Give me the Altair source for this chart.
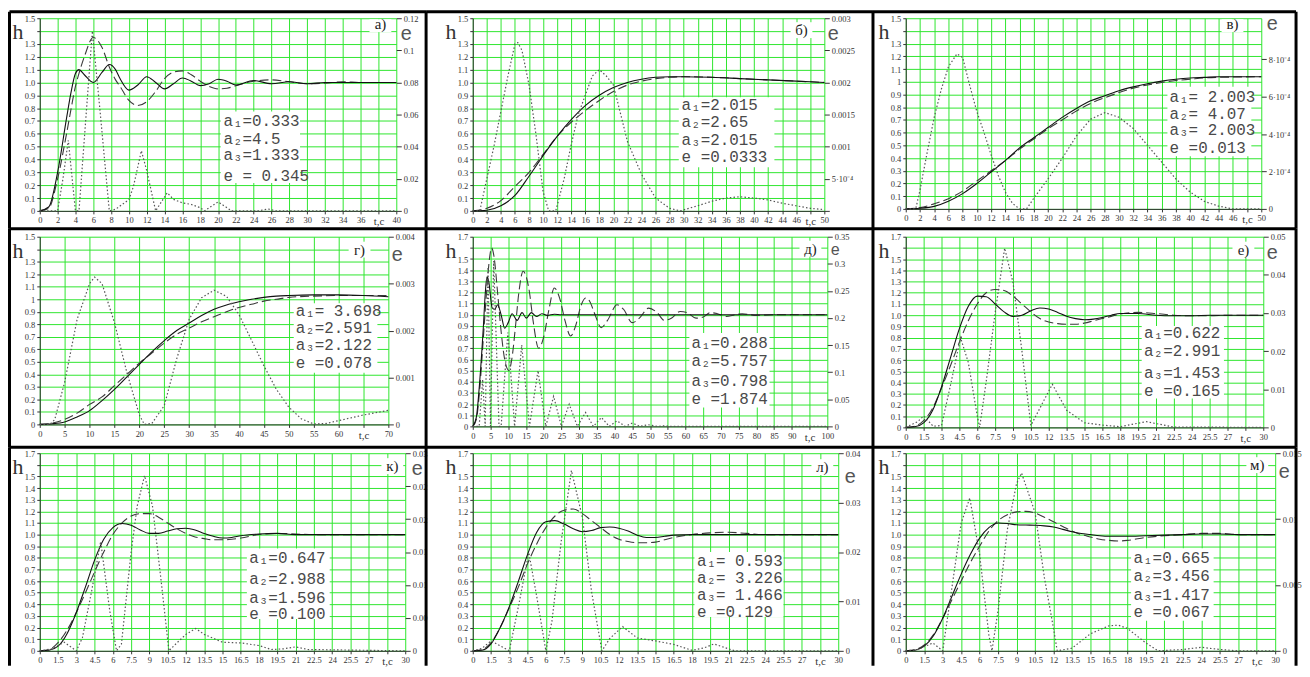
import altair as alt
import pandas as pd

GREEN = "#2ee62e"
SERIF = "Liberation Serif"
MONO = "Liberation Mono"

# ---------------- panel а ----------------
A_T = [0, 1, 2, 3, 3.5, 4, 4.4, 5, 6, 7, 7.8, 8.5, 9, 10, 11, 12, 13, 14, 15, 16, 17, 18, 19, 20, 21, 22, 24, 26, 28, 30, 32, 34, 36, 40]
A_SOLID = [0, 0.03, 0.3, 0.72, 0.92, 1.07, 1.1, 1.06, 1.0, 1.08, 1.14, 1.1, 1.03, 0.94, 0.98, 1.045, 1.0, 0.95, 0.99, 1.035, 1.01, 0.975, 0.99, 1.025, 1.01, 0.98, 1.015, 0.99, 1.005, 0.99, 1.0, 1.0, 1.0, 1.0]
A_DASHED = [0, 0.02, 0.25, 0.6, 0.79, 0.97, 1.07, 1.2, 1.35, 1.27, 1.12, 1.02, 0.97, 0.86, 0.82, 0.85, 0.93, 1.03, 1.08, 1.09, 1.06, 1.01, 0.97, 0.95, 0.955, 0.975, 1.01, 1.02, 1.005, 0.99, 0.995, 1.005, 1.0, 1.0]
A_TE = [0, 2, 2.6, 3.2, 4.0, 4.4, 5.2, 5.9, 6.8, 7.8, 8.5, 9, 10, 10.5, 11.4, 12, 13, 14.3, 15, 16, 17, 18, 18.5, 19, 20, 21, 21.5, 24.5, 25.6, 26.5, 40]
A_E = [0, 0, 0.02, 0.044, 0, 0, 0.06, 0.112, 0.06, 0, 0.001, 0.003, 0.007, 0.015, 0.0375, 0.025, 0, 0.0113, 0.0072, 0.005, 0.004, 0.002, 0, 0.002, 0.0056, 0.002, 0, 0, 0.0012, 0, 0]
A_PARAMS = ["a₁=0.333", "a₂=4.5", "a₃=1.333", "e = 0.345"]
A_ETICKS = [0, 0.02, 0.04, 0.06, 0.08, 0.1, 0.12]
A_ELABELS = ["0", "0.02", "0.04", "0.06", "0.08", "0.1", "0.12"]

# ---------------- panel б ----------------
B_T = [0, 2, 4, 6, 8, 10, 12, 14, 16, 18, 20, 22, 24, 26, 28, 30, 34, 38, 42, 46, 50]
B_SOLID = [0, 0.005, 0.04, 0.12, 0.27, 0.43, 0.58, 0.71, 0.82, 0.9, 0.96, 1.0, 1.025, 1.04, 1.045, 1.045, 1.04, 1.03, 1.02, 1.01, 1.0]
B_DASHED = [0, 0.02, 0.08, 0.19, 0.3, 0.44, 0.58, 0.69, 0.78, 0.86, 0.93, 0.98, 1.01, 1.03, 1.04, 1.045, 1.04, 1.03, 1.02, 1.01, 1.0]
B_TE = [0, 1, 2, 3, 4, 5, 6, 6.4, 7, 8, 9, 10, 10.8, 11.8, 13, 14, 15, 16, 17, 18, 19, 20, 22, 24, 26, 28, 29.5, 32, 34, 36, 38, 40, 42, 44, 46, 48, 50]
B_E = [0, 0, 0.0005, 0.001, 0.00155, 0.0021, 0.0026, 0.00262, 0.0025, 0.00196, 0.00118, 0.0003, 0, 0, 0.0005, 0.00103, 0.0015, 0.0018, 0.0021, 0.0022, 0.0021, 0.00196, 0.00108, 0.00057, 0.0002, 0.00004, 0, 0.00008, 0.00015, 0.0002, 0.00022, 0.0002, 0.00017, 0.00012, 0.00008, 0.00004, 0.00002]
B_PARAMS = ["a₁=2.015", "a₂=2.65", "a₃=2.015", "e =0.0333"]
B_ETICKS = [0, 0.0005, 0.001, 0.0015, 0.002, 0.0025, 0.003]
B_ELABELS = ["", "5·10⁻⁴", "0.001", "0.0015", "0.002", "0.0025", "0.003"]

# ---------------- panel в ----------------
C_T = [0, 2, 4, 6, 8, 10, 12, 14, 16, 18, 20, 22, 24, 26, 28, 30, 32, 34, 36, 38, 40, 42, 44, 50]
C_SOLID = [0, 0.005, 0.02, 0.06, 0.12, 0.2, 0.29, 0.38, 0.48, 0.56, 0.64, 0.72, 0.79, 0.85, 0.89, 0.93, 0.96, 0.985, 1.005, 1.02, 1.03, 1.035, 1.04, 1.04]
C_DASHED = [0, 0.01, 0.04, 0.08, 0.14, 0.22, 0.3, 0.38, 0.47, 0.55, 0.63, 0.7, 0.77, 0.83, 0.875, 0.915, 0.95, 0.975, 0.995, 1.01, 1.02, 1.03, 1.035, 1.04]
C_TE = [0, 1.4, 2, 3, 4, 5, 6, 7.2, 8, 9, 10, 11, 12, 13, 14, 15, 16, 17, 18, 20, 22, 24, 26, 28, 30, 32, 34, 36, 38, 40, 42, 44, 46, 50]
C_E = [0, 0, 0.0001, 0.0003, 0.00049, 0.00064, 0.00076, 0.00083, 0.00081, 0.00066, 0.00052, 0.00041, 0.00029, 0.00018, 0.00009, 0.00003, 0, 0, 0.000057, 0.00016, 0.00027, 0.00039, 0.00048, 0.000515, 0.00049, 0.00043, 0.00034, 0.00025, 0.00016, 0.00009, 0.00004, 0.000015, 0, 0]
C_PARAMS = ["a₁= 2.003", "a₂= 4.07", "a₃= 2.003", "e =0.013"]
C_ETICKS = [0, 0.0002, 0.0004, 0.0006, 0.0008]
C_ELABELS = ["0", "2·10⁻⁴", "4·10⁻⁴", "6·10⁻⁴", "8·10⁻⁴"]

# ---------------- panel г ----------------
D_T = [0, 2.5, 5, 7.5, 10, 12.5, 15, 17.5, 20, 22.5, 25, 27.5, 30, 32.5, 35, 37.5, 40, 42.5, 45, 47.5, 50, 55, 60, 65, 70]
D_SOLID = [0, 0.005, 0.02, 0.06, 0.11, 0.19, 0.28, 0.38, 0.48, 0.58, 0.67, 0.75, 0.81, 0.87, 0.92, 0.955, 0.98, 1.0, 1.015, 1.025, 1.03, 1.035, 1.035, 1.03, 1.02]
D_DASHED = [0, 0.01, 0.04, 0.09, 0.16, 0.22, 0.31, 0.4, 0.49, 0.57, 0.65, 0.72, 0.77, 0.82, 0.86, 0.9, 0.935, 0.96, 0.985, 1.0, 1.015, 1.025, 1.03, 1.03, 1.03]
D_TE = [0, 2, 3, 5, 7.5, 10, 11, 12.5, 15, 17.5, 20, 21, 22.5, 25, 27.5, 30, 32.5, 35, 37.5, 40, 42.5, 45, 47.5, 50, 52.5, 55, 57.5, 60, 65, 70]
D_E = [0, 0, 0.0001, 0.0009, 0.00224, 0.003, 0.00314, 0.003, 0.00217, 0.0011, 0.0002, 0, 0.00002, 0.0004, 0.0014, 0.00224, 0.0027, 0.00286, 0.00273, 0.00234, 0.0018, 0.00125, 0.00075, 0.00037, 0.00012, 0.00001, 0.00002, 0.00008, 0.0002, 0.0003]
D_PARAMS = ["a₁= 3.698", "a₂=2.591", "a₃=2.122", "e =0.078"]
D_ETICKS = [0, 0.001, 0.002, 0.003, 0.004]
D_ELABELS = ["0", "0.001", "0.002", "0.003", "0.004"]

# ---------------- panel д ----------------
E_TS = [0, 1, 2, 3, 3.5, 4, 4.5, 5.5, 6.2, 7, 8, 9, 10, 11.1, 12.5, 13.9, 15.1, 16.5, 18, 19.5, 21, 23, 25, 30, 100]
E_SOLID = [0, 0.08, 0.42, 0.9, 1.18, 1.34, 1.3, 1.06, 1.05, 1.09, 1.0, 0.88, 0.93, 1.01, 0.95, 1.02, 0.97, 1.02, 0.985, 1.01, 0.995, 1.005, 1.0, 1.0, 1.0]
E_TD = [0, 1, 2, 3, 4, 4.7, 5.3, 6, 7, 8, 9, 10.2, 11, 12, 13, 14.2, 15, 16, 17, 18.6, 20, 21.5, 23, 24.5, 26, 27.6, 29, 30.5, 31.8, 33, 34.5, 36.2, 38, 40.7, 42.5, 45, 47, 49.6, 52, 54, 56, 58.5, 60.5, 63, 65, 67, 69, 71.5, 74, 76, 80, 85, 100]
E_DASHED = [0, 0.06, 0.35, 0.8, 1.25, 1.5, 1.6, 1.52, 1.2, 0.85, 0.6, 0.5, 0.6, 0.88, 1.2, 1.39, 1.35, 1.2, 0.95, 0.7, 0.8, 1.05, 1.24, 1.15, 0.95, 0.81, 0.9, 1.08, 1.15, 1.12, 1.0, 0.885, 0.95, 1.09, 1.05, 0.93, 0.97, 1.06, 1.02, 0.95, 0.97, 1.03, 1.02, 0.97, 0.98, 1.02, 1.01, 0.985, 1.0, 1.01, 0.995, 1.0, 1.0]
E_TE = [0, 1.8, 2.8, 3.5, 4.3, 5.0, 5.9, 7.4, 8.0, 9.9, 11.8, 13.8, 16.0, 18.4, 20.6, 22.8, 25.0, 27.2, 29.5, 31.8, 34.0, 36.3, 38.5, 40.7, 43.0, 45.0, 47.2, 49.5, 52.0, 54.0, 56.0, 100]
E_E = [0, 0, 0.0865, 0, 0.294, 0, 0.305, 0, 0, 0.173, 0, 0.15, 0, 0.103, 0, 0.0556, 0, 0.041, 0, 0.0257, 0, 0.0165, 0, 0.0103, 0, 0.0062, 0, 0.0031, 0, 0.001, 0, 0]
E_PARAMS = ["a₁=0.288", "a₂=5.757", "a₃=0.798", "e =1.874"]
E_ETICKS = [0, 0.05, 0.1, 0.15, 0.2, 0.25, 0.3, 0.35]
E_ELABELS = ["0", "0.05", "0.1", "0.15", "0.2", "0.25", "0.3", "0.35"]

# ---------------- panel е ----------------
F_T = [0, 0.75, 1.5, 2.25, 3, 3.75, 4.5, 5.25, 6, 6.75, 7.5, 8.25, 9, 9.75, 10.5, 11.25, 12, 12.75, 13.5, 14.25, 15, 15.75, 16.5, 17.25, 18, 19.5, 21, 22.5, 24, 25.5, 27, 30]
F_SOLID = [0, 0.005, 0.04, 0.15, 0.36, 0.62, 0.88, 1.08, 1.17, 1.165, 1.1, 1.03, 0.99, 1.0, 1.04, 1.065, 1.055, 1.025, 0.99, 0.97, 0.96, 0.965, 0.98, 1.0, 1.015, 1.015, 1.0, 0.995, 0.995, 1.0, 1.0, 1.0]
F_DASHED = [0, 0.01, 0.06, 0.17, 0.35, 0.55, 0.76, 0.95, 1.1, 1.2, 1.23, 1.22, 1.17, 1.1, 1.03, 0.97, 0.94, 0.925, 0.92, 0.92, 0.93, 0.95, 0.97, 0.99, 1.01, 1.025, 1.015, 1.0, 0.995, 0.995, 1.0, 1.0]
F_TE = [0, 1.0, 1.5, 2.3, 3.0, 3.75, 4.6, 5.25, 6.0, 6.2, 6.75, 7.5, 8.3, 9.0, 9.75, 10.5, 11.25, 12.3, 13.5, 15, 16.5, 18, 19, 20.2, 21, 22.5, 30]
F_E = [0, 0.0015, 0.003, 0.0003, 0.0005, 0.011, 0.0235, 0.017, 0.003, 0, 0.012, 0.03, 0.047, 0.038, 0.02, 0.0005, 0.005, 0.0113, 0.0045, 0.0012, 0.0006, 0.0002, 0.0008, 0.0015, 0.001, 0.0001, 0]
F_PARAMS = ["a₁=0.622", "a₂=2.991", "a₃=1.453", "e =0.165"]
F_ETICKS = [0, 0.01, 0.02, 0.03, 0.04, 0.05]
F_ELABELS = ["0", "0.01", "0.02", "0.03", "0.04", "0.05"]

# ---------------- panel к ----------------
G_T = [0, 0.75, 1.5, 2.25, 3, 3.75, 4.5, 5.25, 6, 6.75, 7.5, 8.25, 9, 9.75, 10.5, 11.25, 12, 12.75, 13.5, 14.25, 15, 15.75, 16.5, 18, 19.5, 21, 22.5, 24, 30]
G_SOLID = [0, 0.005, 0.04, 0.15, 0.33, 0.55, 0.78, 0.96, 1.06, 1.095, 1.08, 1.04, 1.01, 1.01, 1.03, 1.05, 1.055, 1.04, 1.01, 0.985, 0.97, 0.975, 0.99, 1.005, 1.01, 1.0, 1.0, 1.0, 1.0]
G_DASHED = [0, 0.01, 0.07, 0.18, 0.33, 0.5, 0.68, 0.85, 1.0, 1.1, 1.16, 1.18, 1.18, 1.15, 1.1, 1.05, 1.01, 0.98, 0.965, 0.955, 0.955, 0.96, 0.97, 1.0, 1.01, 1.005, 1.0, 1.0, 1.0]
G_TE = [0, 1.0, 2.0, 3.0, 3.5, 4.25, 5.0, 5.75, 6.3, 6.7, 7.5, 8.0, 8.6, 9.25, 10.0, 10.6, 11.25, 12.0, 12.8, 13.5, 15, 16.5, 18, 19, 20, 21, 22, 30]
G_E = [0, 0.0003, 0.0013, 0, 0.002, 0.009, 0.0166, 0.006, 0, 0.001, 0.015, 0.022, 0.0266, 0.022, 0.01, 0, 0.0012, 0.0025, 0.0034, 0.0025, 0.0013, 0.0012, 0.0008, 0.0002, 0.0003, 0.0006, 0.0002, 0]
G_PARAMS = ["a₁=0.647", "a₂=2.988", "a₃=1.596", "e =0.100"]
G_ETICKS = [0, 0.005, 0.01, 0.015, 0.02, 0.025, 0.03]
G_ELABELS = ["0", "0.00", "0.01", "0.01", "0.02", "0.02", "0.03"]

# ---------------- panel л ----------------
H_T = [0, 0.75, 1.5, 2.25, 3, 3.75, 4.5, 5.25, 6, 6.75, 7.5, 8.25, 9, 9.75, 10.5, 11.25, 12, 12.75, 13.5, 14.25, 15, 15.75, 16.5, 18, 19.5, 21, 22.5, 24, 30]
H_SOLID = [0, 0.005, 0.06, 0.2, 0.38, 0.6, 0.83, 1.02, 1.11, 1.12, 1.09, 1.05, 1.025, 1.035, 1.06, 1.065, 1.055, 1.03, 0.995, 0.975, 0.975, 0.985, 0.995, 1.0, 1.0, 1.0, 1.0, 1.0, 1.0]
H_DASHED = [0, 0.01, 0.07, 0.2, 0.37, 0.55, 0.75, 0.92, 1.06, 1.16, 1.21, 1.22, 1.18, 1.12, 1.06, 1.0, 0.96, 0.94, 0.93, 0.93, 0.935, 0.955, 0.975, 1.0, 1.015, 1.02, 1.01, 1.0, 1.0]
H_TE = [0, 0.75, 1.5, 2.25, 3.0, 3.75, 4.6, 5.25, 6.0, 6.5, 7.25, 8.1, 9.0, 9.75, 10.6, 11.25, 12.3, 13.5, 15, 16.5, 18, 19, 19.8, 21, 21.5, 30]
H_E = [0, 0.0005, 0.002, 0.001, 0, 0.009, 0.0199, 0.011, 0, 0.006, 0.022, 0.0365, 0.027, 0.012, 0, 0.0025, 0.0049, 0.0026, 0.002, 0.0013, 0.0001, 0.0006, 0.0014, 0.0004, 0, 0]
H_PARAMS = ["a₁= 0.593", "a₂= 3.226", "a₃= 1.466", "e =0.129"]
H_ETICKS = [0, 0.01, 0.02, 0.03, 0.04]
H_ELABELS = ["0", "0.01", "0.02", "0.03", "0.04"]

# ---------------- panel м ----------------
M_T = [0, 0.75, 1.5, 2.25, 3, 3.75, 4.5, 5.25, 6, 6.75, 7.5, 8.25, 9, 9.75, 10.5, 11.25, 12, 12.75, 13.5, 14.25, 15, 15.75, 16.5, 17.25, 18, 19.5, 21, 22.5, 24, 25.5, 27, 30]
M_SOLID = [0, 0.005, 0.04, 0.13, 0.28, 0.47, 0.66, 0.83, 0.97, 1.06, 1.1, 1.095, 1.085, 1.082, 1.08, 1.075, 1.065, 1.045, 1.025, 1.01, 1.0, 0.99, 0.985, 0.985, 0.985, 0.99, 0.995, 1.0, 1.005, 1.005, 1.0, 1.0]
M_DASHED = [0, 0.01, 0.05, 0.14, 0.28, 0.44, 0.6, 0.76, 0.9, 1.03, 1.12, 1.17, 1.195, 1.2, 1.185, 1.15, 1.11, 1.07, 1.03, 1.0, 0.98, 0.96, 0.95, 0.945, 0.95, 0.975, 0.99, 1.0, 1.01, 1.01, 1.0, 1.0]
M_TE = [0, 1.0, 2.2, 3.0, 3.75, 4.5, 5.2, 6.0, 6.75, 7.0, 7.5, 8.25, 9.0, 9.4, 10.5, 11.25, 12.0, 12.3, 13.5, 15, 16.5, 17.25, 18, 19.5, 20.5, 22.5, 24, 25.5, 27, 30]
M_E = [0, 0.0001, 0.0006, 0, 0.0048, 0.0097, 0.0116, 0.0073, 0.0012, 0, 0.0031, 0.0092, 0.0127, 0.0135, 0.0105, 0.0056, 0.0017, 0, 0.0002, 0.0013, 0.0019, 0.00195, 0.0017, 0.0006, 0, 0.0001, 0.00027, 0.0001, 0, 0]
M_PARAMS = ["a₁=0.665", "a₂=3.456", "a₃=1.417", "e =0.067"]
M_ETICKS = [0, 0.005, 0.01, 0.015]
M_ELABELS = ["0", "0.005", "0.01", "0.015"]

# ---------------- panel settings (scales, layout) ----------------
PANELS = [
    dict(letter="а)", ts=A_T, solid=A_SOLID, td=A_T, dashed=A_DASHED, te=A_TE, e=A_E, params=A_PARAMS,
         eticks=A_ETICKS, elabels=A_ELABELS, estep=0.02, emax=0.12,
         xmax=40, xstep=2, tc=38, hmax=1.5, hhide=1.4, hfmt=".1f",
         w=359, hh=194, tx=20.6, ty=[0.696, 0.557, 0.433, 0.271], box=(20.3, 29.2, 0.217, 0.773),
         let=(-16, 6), eat=(10, 21.5, 20)),
    dict(letter="б)", ts=B_T, solid=B_SOLID, td=B_T, dashed=B_DASHED, te=B_TE, e=B_E, params=B_PARAMS,
         eticks=B_ETICKS, elabels=B_ELABELS, estep=0.0005, emax=0.003,
         xmax=50, xstep=2, tc=48, hmax=1.5, hhide=1.4, hfmt=".1f",
         w=354, hh=194, tx=29.7, ty=[0.825, 0.69, 0.555, 0.42], box=(29.3, 42.9, 0.34, 0.885),
         let=(-23, 12), eat=(9, 21.5, 20)),
    dict(letter="в)", ts=C_T, solid=C_SOLID, td=C_T, dashed=C_DASHED, te=C_TE, e=C_E, params=C_PARAMS,
         eticks=C_ETICKS, elabels=C_ELABELS, estep=0.0002, emax=0.00102,
         xmax=50, xstep=2, tc=48, hmax=1.5, hhide=1.4, hfmt=".1~f",
         w=358, hh=192, tx=37.1, ty=[0.883, 0.75, 0.617, 0.477], box=(36.8, 48.6, 0.414, 0.961),
         let=(-29, 6), eat=(11, 12, 20)),
    dict(letter="г)", ts=D_T, solid=D_SOLID, td=D_T, dashed=D_DASHED, te=D_TE, e=D_E, params=D_PARAMS,
         eticks=D_ETICKS, elabels=D_ELABELS, estep=0.001, emax=0.004,
         xmax=70, xstep=5, tc=65, hmax=1.5, hhide=1.4, hfmt=".1~f",
         w=351, hh=189, tx=51.4, ty=[0.905, 0.768, 0.631, 0.492], box=(51.0, 67.8, 0.413, 0.968),
         let=(-29, 13), eat=(9, 24, 20)),
    dict(letter="д)", ts=E_TS, solid=E_SOLID, td=E_TD, dashed=E_DASHED, te=E_TE, e=E_E, params=E_PARAMS,
         eticks=E_ETICKS, elabels=E_ELABELS, estep=0.05, emax=0.35,
         xmax=100, xstep=5, tc=95, hmax=1.7, hhide=1.6, hfmt=".1f",
         w=357, hh=191, tx=61.7, ty=[0.748, 0.588, 0.41, 0.249], box=(61.1, 83.7, 0.169, 0.837),
         let=(-17, 12), eat=(8, 18, 16)),
    dict(letter="е)", ts=F_T, solid=F_SOLID, td=F_T, dashed=F_DASHED, te=F_TE, e=F_E, params=F_PARAMS,
         eticks=F_ETICKS, elabels=F_ELABELS, estep=0.01, emax=0.05,
         xmax=30, xstep=1.5, tc=28.5, hmax=1.7, hhide=1.6, hfmt=".1f",
         w=360, hh=192, tx=20.0, ty=[0.842, 0.682, 0.487, 0.328], box=(19.8, 26.7, 0.257, 0.904),
         let=(-20, 13), eat=(9, 22, 20)),
    dict(letter="к)", ts=G_T, solid=G_SOLID, td=G_T, dashed=G_DASHED, te=G_TE, e=G_E, params=G_PARAMS,
         eticks=G_ETICKS, elabels=G_ELABELS, estep=0.005, emax=0.03,
         xmax=30, xstep=1.5, tc=28.5, hmax=1.7, hhide=1.6, hfmt=".1f",
         w=368, hh=199, tx=17.2, ty=[0.794, 0.615, 0.453, 0.316], box=(17.0, 23.8, 0.273, 0.880),
         let=(-13, 13), eat=(12, 21.5, 20)),
    dict(letter="л)", ts=H_T, solid=H_SOLID, td=H_T, dashed=H_DASHED, te=H_TE, e=H_E, params=H_PARAMS,
         eticks=H_ETICKS, elabels=H_ELABELS, estep=0.01, emax=0.04,
         xmax=30, xstep=1.5, tc=28.5, hmax=1.7, hhide=1.6, hfmt=".1f",
         w=368, hh=199, tx=18.4, ty=[0.775, 0.625, 0.483, 0.333], box=(18.2, 25.5, 0.29, 0.85),
         let=(-16, 14), eat=(12, 30, 20)),
    dict(letter="м)", ts=M_T, solid=M_SOLID, td=M_T, dashed=M_DASHED, te=M_TE, e=M_E, params=M_PARAMS,
         eticks=M_ETICKS, elabels=M_ELABELS, estep=0.005, emax=0.015,
         xmax=30, xstep=1.5, tc=28.5, hmax=1.7, hhide=1.6, hfmt=".1f",
         w=372, hh=199, tx=18.5, ty=[0.8, 0.642, 0.483, 0.333], box=(18.3, 25.0, 0.258, 0.883),
         let=(-18, 12), eat=(9, 25, 20)),
]

COL_SP = 68
ROW_SP = 26
COL_W = [max(PANELS[r * 3 + c]["w"] for r in range(3)) for c in range(3)]
ROW_H = [max(PANELS[r * 3 + c]["hh"] for c in range(3)) for r in range(3)]
COL_LEFT = [40, 40 + COL_W[0] + COL_SP, 40 + COL_W[0] + COL_W[1] + 2 * COL_SP]
ROW_TOP = [16, 16 + ROW_H[0] + ROW_SP, 16 + ROW_H[0] + ROW_H[1] + 2 * ROW_SP]
X_DIV = [9.5, 429, 879, 1305]
Y_DIV = [9.5, 228, 448, 668]
H_DX = -22

ONE = pd.DataFrame({"k": [0]})


def px_text(txt, x, y, **kw):
    return alt.Chart(ONE).mark_text(text=txt, **kw).encode(x=alt.value(x), y=alt.value(y))


def px_rule(**enc):
    return alt.Chart(ONE).mark_rule(color="black", strokeWidth=3).encode(
        **{k: alt.value(v) for k, v in enc.items()})


def build(p, r, c):
    w, hh = p["w"], p["hh"]
    nx = int(round(p["xmax"] / p["xstep"]))
    xticks = [round(i * p["xstep"], 3) for i in range(nx + 1)]
    nh = int(round(p["hmax"] / 0.1))
    hticks = [round(i * 0.1, 1) for i in range(nh + 1)]
    tc_test = f"abs(datum.value - {p['tc']}) < 1e-6"
    xaxis = alt.Axis(values=xticks, title=None, grid=True, labelFlush=False, labelOverlap=False,
                     labelExpr=f"{tc_test} ? 't,c' : format(datum.value, '.1~f')",
                     labelFontSize={"condition": {"test": tc_test, "value": 11}, "value": 8.5})
    haxis = alt.Axis(values=hticks, title=None, grid=True, orient="left", labelOverlap=False,
                     labelExpr=(f"abs(datum.value - {p['hhide']}) < 1e-6 ? '' : "
                                f"(datum.value == 0 ? '0' : format(datum.value, '{p['hfmt']}'))"))
    arr = ",".join("'" + s + "'" for s in p["elabels"])
    eaxis = alt.Axis(values=p["eticks"], title=None, grid=False, orient="right", domain=False,
                     labelOverlap=False, tickSize=5,
                     labelExpr=f"[{arr}][round(datum.value / {p['estep']})]")
    xs = alt.Scale(domain=[0, p["xmax"]], nice=False, zero=False)
    hs = alt.Scale(domain=[0, p["hmax"]], nice=False, zero=False)
    es = alt.Scale(domain=[0, p["emax"]], nice=False, zero=False)
    X = alt.X("t:Q", scale=xs, axis=xaxis)
    Y = alt.Y("h:Q", scale=hs, axis=haxis)

    df_s = pd.DataFrame({"t": p["ts"], "h": p["solid"]})
    df_d = pd.DataFrame({"t": p["td"], "h": p["dashed"]})
    df_e = pd.DataFrame({"t": p["te"], "e": p["e"]})
    b0, b1, h0, h1 = p["box"]
    df_box = pd.DataFrame({"t": [b0], "t2": [b1], "h": [h0], "h2": [h1]})
    df_txt = pd.DataFrame({"t": [p["tx"]] * 4, "h": p["ty"], "label": p["params"]})

    box = alt.Chart(df_box).mark_rect(fill="white").encode(x=X, x2="t2:Q", y=Y, y2="h2:Q")
    dashed = alt.Chart(df_d).mark_line(color="#3a3a3a", strokeDash=[9, 4], strokeWidth=1.1,
                                       interpolate="monotone").encode(x=X, y=Y)
    solid = alt.Chart(df_s).mark_line(color="#111111", strokeWidth=1.1,
                                      interpolate="monotone").encode(x=X, y=Y)
    txt = alt.Chart(df_txt).mark_text(align="left", baseline="middle", font=MONO, fontSize=16,
                                      color="#4a4a4a").encode(x=X, y=Y, text="label:N")

    ldx, ldy = p["let"]
    edx, eby, efs = p["eat"]
    let_box = alt.Chart(ONE).mark_rect(fill="white").encode(
        x=alt.value(w + ldx - 11), x2=alt.value(w + ldx + 11),
        y=alt.value(max(ldy - 8, 1)), y2=alt.value(ldy + 8))
    let_txt = px_text(p["letter"], w + ldx, ldy, font=SERIF, fontSize=15, color="#222222",
                      align="center", baseline="middle")
    h_lab = px_text("h", H_DX, 21, font=SERIF, fontSize=22, color="#333333",
                    align="center", baseline="alphabetic")
    e_lab = px_text("e", w + edx, eby, font=MONO, fontSize=efs, color="#555555",
                    align="center", baseline="alphabetic")

    L = X_DIV[c] - COL_LEFT[c]
    R = X_DIV[c + 1] - COL_LEFT[c]
    T = Y_DIV[r] - ROW_TOP[r]
    B = Y_DIV[r + 1] - ROW_TOP[r]
    borders = [px_rule(x=L, x2=R, y=T), px_rule(x=L, y=T, y2=B)]
    if c == 2:
        borders.append(px_rule(x=R, y=T, y2=B))

    inner = alt.layer(box, dashed, solid, txt, let_box, let_txt, h_lab, e_lab, *borders)
    dotted = alt.Chart(df_e).mark_line(color="#555555", strokeDash=[1.5, 2.2], strokeWidth=1.2).encode(
        x=X, y=alt.Y("e:Q", scale=es, axis=eaxis))
    return alt.layer(inner, dotted).resolve_scale(y="independent").properties(width=w, height=hh)


charts = [build(PANELS[i], i // 3, i % 3) for i in range(9)]

chart = alt.concat(
    *charts, columns=3, spacing={"row": ROW_SP, "column": COL_SP}, align="each", bounds="flush"
).properties(padding=0).configure_view(stroke=None).configure_axis(
    labelFont=SERIF, labelColor="#333333", labelFontSize=8.5, tickColor="#333333", tickSize=3,
    domainColor="#333333", gridColor=GREEN, gridOpacity=1, gridWidth=1, labelPadding=2
)

chart.save("out.html", embed_options={"renderer": "svg", "actions": False})
